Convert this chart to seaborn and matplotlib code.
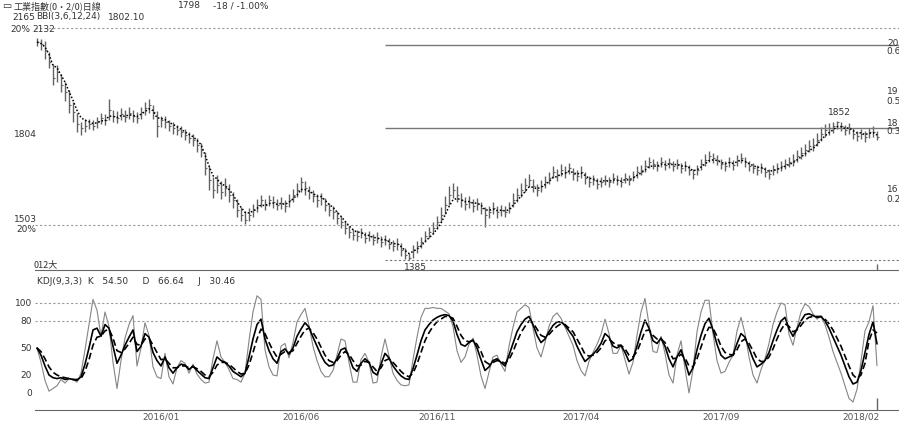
import numpy as np
import pandas as pd
import seaborn as sns
import matplotlib.pyplot as plt

# index bars (one bar about every 4 px, roughly 3 sessions)
closes = [2118, 2110, 2091, 2051, 1997, 2017, 1973, 1950, 1906, 1883,
          1842, 1829, 1836, 1842, 1836, 1849, 1863, 1856, 1889, 1869,
          1863, 1876, 1866, 1879, 1869, 1863, 1883, 1896, 1906, 1883,
          1836, 1856, 1849, 1836, 1829, 1822, 1815, 1805, 1795, 1789,
          1772, 1755, 1695, 1654, 1621, 1637, 1614, 1627, 1604, 1587,
          1553, 1537, 1520, 1537, 1553, 1570, 1587, 1570, 1587, 1580,
          1570, 1577, 1567, 1587, 1604, 1621, 1647, 1627, 1614, 1600,
          1587, 1594, 1570, 1553, 1547, 1527, 1513, 1493, 1479, 1469,
          1466, 1476, 1459, 1466, 1453, 1459, 1446, 1453, 1439, 1432,
          1439, 1419, 1402, 1392, 1419, 1432, 1446, 1466, 1479, 1493,
          1513, 1537, 1570, 1604, 1621, 1604, 1587, 1574, 1580, 1567,
          1574, 1560, 1537, 1547, 1560, 1547, 1553, 1547, 1560, 1587,
          1604, 1621, 1637, 1654, 1634, 1621, 1634, 1647, 1661, 1681,
          1671, 1688, 1681, 1695, 1674, 1668, 1681, 1661, 1647, 1654,
          1641, 1647, 1654, 1647, 1661, 1654, 1647, 1661, 1654, 1668,
          1681, 1688, 1701, 1715, 1708, 1701, 1715, 1705, 1711, 1701,
          1708, 1695, 1701, 1688, 1674, 1688, 1708, 1721, 1735, 1728,
          1721, 1708, 1701, 1715, 1705, 1721, 1728, 1715, 1701, 1695,
          1688, 1695, 1681, 1674, 1688, 1695, 1701, 1708, 1715, 1721,
          1735, 1745, 1755, 1768, 1772, 1789, 1809, 1822, 1829, 1836,
          1849, 1836, 1822, 1829, 1809, 1802, 1809, 1799, 1815, 1816, 1798]
highs = [2132, 2128, 2120, 2085, 2045, 2040, 2010, 1985, 1955, 1915,
         1880, 1850, 1858, 1860, 1855, 1866, 1880, 1875, 1925, 1890,
         1885, 1895, 1888, 1900, 1888, 1882, 1900, 1915, 1925, 1905,
         1885, 1870, 1868, 1855, 1848, 1840, 1835, 1825, 1815, 1808,
         1795, 1780, 1750, 1700, 1665, 1670, 1650, 1660, 1640, 1615,
         1590, 1565, 1550, 1560, 1575, 1590, 1605, 1592, 1605, 1600,
         1592, 1598, 1588, 1606, 1625, 1645, 1665, 1650, 1635, 1622,
         1608, 1612, 1595, 1578, 1568, 1550, 1535, 1518, 1500, 1490,
         1485, 1492, 1480, 1482, 1472, 1478, 1465, 1470, 1460, 1452,
         1458, 1442, 1425, 1410, 1435, 1450, 1462, 1482, 1498, 1512,
         1535, 1565, 1600, 1635, 1645, 1635, 1612, 1598, 1602, 1590,
         1595, 1582, 1565, 1568, 1580, 1568, 1572, 1566, 1580, 1610,
         1628, 1645, 1660, 1675, 1658, 1642, 1655, 1668, 1682, 1700,
         1692, 1708, 1700, 1712, 1695, 1688, 1700, 1682, 1668, 1672,
         1660, 1665, 1672, 1665, 1678, 1672, 1665, 1678, 1672, 1686,
         1700, 1706, 1720, 1732, 1725, 1718, 1730, 1722, 1728, 1718,
         1725, 1712, 1718, 1706, 1692, 1705, 1725, 1740, 1752, 1745,
         1738, 1725, 1718, 1732, 1722, 1738, 1745, 1732, 1718, 1712,
         1705, 1712, 1698, 1692, 1705, 1712, 1718, 1725, 1732, 1740,
         1755, 1765, 1775, 1790, 1795, 1812, 1832, 1842, 1845, 1848,
         1852, 1850, 1840, 1845, 1828, 1820, 1826, 1818, 1830, 1835, 1820]
lows = [2105, 2092, 2060, 2030, 1975, 1985, 1950, 1920, 1880, 1850,
        1815, 1805, 1815, 1825, 1822, 1830, 1842, 1838, 1855, 1850,
        1845, 1856, 1848, 1860, 1850, 1845, 1860, 1872, 1880, 1860,
        1800, 1832, 1830, 1818, 1810, 1805, 1798, 1788, 1778, 1770,
        1750, 1730, 1670, 1620, 1595, 1610, 1590, 1600, 1580, 1560,
        1530, 1515, 1505, 1515, 1530, 1548, 1565, 1552, 1566, 1560,
        1552, 1558, 1548, 1565, 1582, 1598, 1615, 1605, 1592, 1580,
        1565, 1572, 1550, 1532, 1525, 1505, 1492, 1472, 1460, 1452,
        1450, 1458, 1442, 1448, 1436, 1442, 1430, 1435, 1422, 1415,
        1420, 1400, 1388, 1385, 1392, 1410, 1425, 1445, 1458, 1472,
        1490, 1512, 1540, 1572, 1595, 1580, 1565, 1555, 1560, 1548,
        1555, 1540, 1495, 1528, 1540, 1528, 1535, 1530, 1542, 1565,
        1582, 1598, 1615, 1630, 1614, 1602, 1615, 1628, 1642, 1660,
        1652, 1668, 1662, 1675, 1655, 1650, 1662, 1642, 1630, 1636,
        1625, 1630, 1636, 1630, 1644, 1637, 1630, 1643, 1637, 1650,
        1662, 1670, 1682, 1696, 1690, 1684, 1697, 1688, 1694, 1684,
        1690, 1678, 1684, 1670, 1658, 1670, 1688, 1702, 1716, 1710,
        1704, 1690, 1684, 1697, 1688, 1703, 1710, 1697, 1684, 1678,
        1670, 1678, 1664, 1658, 1670, 1678, 1684, 1690, 1697, 1703,
        1716, 1725, 1735, 1748, 1752, 1768, 1785, 1798, 1805, 1812,
        1825, 1818, 1805, 1810, 1792, 1785, 1792, 1782, 1796, 1800, 1790]

# KDJ(9,3,3) K and D lines at the same bars
k_line = [50, 42, 30, 20, 17, 16, 17, 15, 16, 15,
          14, 18, 32, 50, 70, 72, 63, 76, 72, 52,
          33, 42, 53, 62, 70, 46, 52, 66, 62, 45,
          36, 30, 40, 28, 22, 28, 32, 31, 26, 30,
          25, 21, 17, 16, 28, 40, 36, 34, 30, 24,
          21, 18, 22, 40, 60, 76, 82, 60, 47, 38,
          33, 46, 49, 43, 50, 63, 71, 78, 73, 62,
          52, 42, 34, 30, 31, 38, 48, 50, 40, 28,
          24, 33, 38, 34, 23, 20, 32, 44, 39, 30,
          24, 19, 16, 15, 27, 42, 58, 70, 76, 81,
          84, 86, 87, 86, 80, 65, 54, 52, 56, 59,
          50, 37, 25, 29, 36, 38, 34, 30, 42, 55,
          68, 76, 82, 85, 76, 64, 56, 60, 68, 75,
          79, 79, 75, 69, 63, 52, 43, 35, 39, 43,
          48, 55, 66, 62, 52, 50, 53, 45, 35, 38,
          52, 68, 81, 72, 58, 55, 61, 52, 38, 29,
          40, 48, 35, 20, 28, 48, 64, 77, 83, 70,
          54, 42, 38, 40, 42, 55, 66, 62, 50, 38,
          29, 32, 36, 45, 58, 70, 80, 84, 71, 63,
          71, 80, 87, 88, 86, 84, 85, 80, 72, 62,
          52, 42, 30, 18, 10, 12, 25, 45, 65, 79, 54.50]
d_line = [50, 46, 38, 29, 23, 20, 18, 17, 16, 15,
          15, 16, 24, 37, 53, 62, 63, 69, 71, 61,
          47, 45, 49, 55, 62, 54, 53, 60, 61, 53,
          45, 37, 38, 33, 28, 28, 30, 30, 28, 29,
          27, 24, 20, 18, 23, 31, 34, 34, 32, 28,
          24, 21, 22, 31, 45, 60, 71, 66, 56, 47,
          40, 43, 46, 45, 47, 55, 63, 70, 72, 67,
          60, 51, 42, 36, 34, 36, 42, 46, 43, 36,
          30, 31, 35, 34, 29, 24, 28, 36, 38, 34,
          29, 24, 20, 18, 22, 32, 45, 58, 67, 74,
          79, 82, 85, 85, 83, 74, 64, 58, 57, 58,
          54, 46, 35, 32, 34, 36, 35, 33, 37, 46,
          57, 67, 74, 80, 78, 71, 64, 62, 65, 70,
          74, 77, 76, 72, 68, 60, 52, 43, 41, 42,
          45, 50, 58, 60, 56, 53, 53, 49, 42, 40,
          46, 57, 69, 70, 64, 60, 60, 56, 47, 38,
          39, 43, 39, 30, 29, 38, 51, 64, 73, 72,
          63, 52, 45, 43, 42, 48, 57, 60, 55, 47,
          38, 35, 35, 40, 49, 60, 70, 77, 74, 68,
          70, 75, 81, 84, 85, 85, 85, 82, 77, 70,
          61, 52, 41, 30, 20, 16, 20, 33, 58, 70, 66.64]

date_idx = [31, 66, 100, 136, 171, 206]
date_labels = ["2016/01", "2016/06", "2016/11", "2017/04", "2017/09", "2018/02"]
kdj_ticks = [0, 20, 50, 80, 100]
pct_lines = [2165, 1503]          # 20% step lines, full width
gold_lines = [2108, 1829]         # solid section lines from the low
gold_start = 87
low_line = 1385
# BBI(3,6,12,24) in sessions -> bars of ~3 sessions each
bbi_windows = [1, 2, 4, 8]

df = pd.DataFrame({"close": closes, "high": highs, "low": lows,
                   "K": k_line, "D": d_line})
df["i"] = np.arange(len(df))
c = df["close"]
df["bbi"] = sum(c.rolling(n, min_periods=1).mean() for n in bbi_windows) / 4
df["J"] = 3 * df["K"] - 2 * df["D"]

sns.set_style("white")
plt.rcParams["font.family"] = ["DejaVu Sans", "Noto Sans CJK TC"]

W, H = 899, 422
fig = plt.figure(figsize=(W / 100, H / 100), dpi=100)


def fx(x, y):
    return x / W, 1 - y / H


ax = fig.add_axes([35 / W, 1 - 270 / H, 1 - 35 / W, 270 / H])
ax2 = fig.add_axes([35 / W, 1 - 410 / H, 1 - 35 / W, 120 / H])
xlim = (-0.5, 215.5)

# price panel
ax.vlines(df["i"], df["low"], df["high"], color="#626262", lw=1)
ax.hlines(df["close"], df["i"], df["i"] + 0.45, color="#626262", lw=0.8)
sns.lineplot(data=df, x="i", y="bbi", ax=ax, color="black", lw=1.1,
             linestyle=(0, (1, 1.3)), zorder=3)
for v in pct_lines:
    ax.axhline(v, color="#9a9a9a", lw=0.8, ls=(0, (2, 2)))
for v in gold_lines:
    ax.hlines(v, gold_start, xlim[1], color="#777777", lw=1)
ax.hlines(low_line, gold_start, xlim[1], color="#777777", lw=0.8, ls=(0, (2, 2)))
ax.vlines(len(df) - 1, 1352, 1372, color="#666666", lw=1)
ax.set_xlim(*xlim)
ax.set_ylim(1352, 2259)
ax.set_xticks([])
ax.set_yticks([])
ax.set_xlabel("")
ax.set_ylabel("")
for s in ["top", "left", "right"]:
    ax.spines[s].set_visible(False)
ax.spines["bottom"].set_color("#666666")

# KDJ panel
sns.lineplot(data=df, x="i", y="J", ax=ax2, color="#858585", lw=0.8)
sns.lineplot(data=df, x="i", y="K", ax=ax2, color="black", lw=1.2)
sns.lineplot(data=df, x="i", y="D", ax=ax2, color="black", lw=1.2,
             linestyle=(0, (4, 2)))
for v in (100, 80):
    ax2.axhline(v, color="#9a9a9a", lw=0.8, ls=(0, (2, 2)))
ax2.vlines(len(df) - 1, -18.9, -5.6, color="#666666", lw=1)
ax2.set_xlim(*xlim)
ax2.set_ylim(-18.9, 114.4)
ax2.set_yticks(kdj_ticks)
ax2.set_yticklabels([str(t) for t in kdj_ticks], fontsize=6.5, color="#333333")
ax2.set_xticks(date_idx)
ax2.set_xticklabels(date_labels, fontsize=6.5, color="#555555")
ax2.tick_params(length=0, pad=2)
ax2.set_xlabel("")
ax2.set_ylabel("")
for s in ["top", "left", "right"]:
    ax2.spines[s].set_visible(False)
ax2.spines["bottom"].set_color("#666666")

# header and labels
txt = dict(fontsize=6.5, color="#333333", va="center")
cjk = ["Noto Sans CJK TC", "DejaVu Sans"]
fig.text(*fx(2, 6), "▭", fontsize=7, color="#333333", va="center")
fig.text(*fx(13, 6), "工業指數(0・2/0)日線", family=cjk, **txt)
fig.text(*fx(178, 6), "1798", **txt)
fig.text(*fx(213, 6), "-18 / -1.00%", **txt)
fig.text(*fx(12, 17), "2165", **txt)
fig.text(*fx(36, 17), "BBI(3,6,12,24)", **txt)
fig.text(*fx(108, 17), "1802.10", **txt)
fig.text(*fx(10, 30), "20%", **txt)
fig.text(*fx(32, 30), "2132", **txt)
fig.text(*fx(14, 135), "1804", **txt)
fig.text(*fx(14, 219), "1503", **txt)
fig.text(*fx(16, 230), "20%", **txt)
fig.text(*fx(34, 265), "012大", family=cjk, **txt)
fig.text(*fx(404, 268), "1385", **txt)
fig.text(*fx(828, 112), "1852", **txt)
fig.text(*fx(37, 281), "KDJ(9,3,3)  K   54.50     D   66.64     J   30.46", **txt)
# right-hand section labels, only their first characters fit in the frame
for y1, y2, a, b in [(43, 52, "20", "0.6"), (92, 102, "19", "0.5"),
                     (123, 132, "18", "0.3"), (190, 200, "16", "0.2")]:
    fig.text(*fx(887, y1), a, **txt)
    fig.text(*fx(886, y2), b, **txt)

fig.savefig("out.png", dpi=100)
